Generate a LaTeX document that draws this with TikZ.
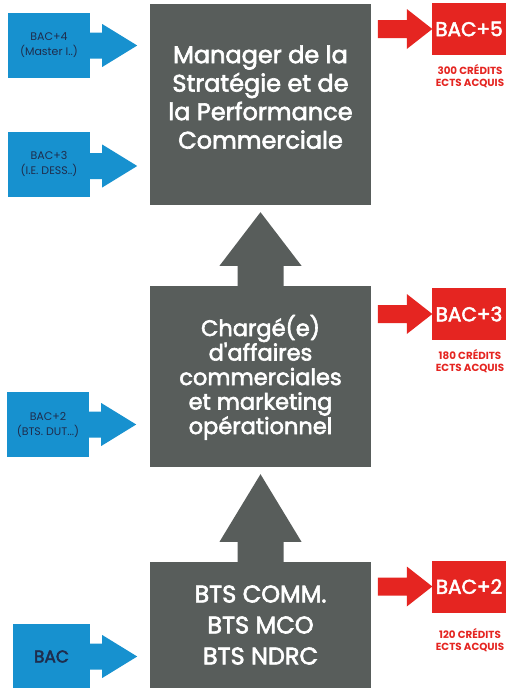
\documentclass[tikz,border=0pt]{standalone}
\usepackage{fontspec}
\setmainfont{Poppins}
\newfontfamily\medfont{Poppins}[FakeBold=2.6]
\usetikzlibrary{calc}
\definecolor{boxgray}{HTML}{585D5B}
\definecolor{bacblue}{HTML}{1791CF}
\definecolor{bacred}{HTML}{E52521}
\definecolor{navytext}{HTML}{1F2D4D}
\newcommand\bluearrowfrom[2]{% node, y offset of tip
  \fill[bacblue] ($(#1.east)+(-1,#2-13)$) -- ($(#1.east)+(12,#2-13)$) -- ($(#1.east)+(12,#2-21.5)$)
   -- ($(#1.east)+(47,#2)$) -- ($(#1.east)+(12,#2+21.5)$) -- ($(#1.east)+(12,#2+13)$) -- ($(#1.east)+(-1,#2+13)$) -- cycle;}
\newcommand\redarrowto[1]{%
  \fill[bacred] ($(#1.west)+(-54,-9)$) -- ($(#1.west)+(-25,-9)$) -- ($(#1.west)+(-25,-20)$)
   -- ($(#1.west)+(0.5,0)$) -- ($(#1.west)+(-25,20)$) -- ($(#1.west)+(-25,9)$) -- ($(#1.west)+(-54,9)$) -- cycle;}
\newcommand\uparrowbetween[2]{% lower node, upper node
  \fill[boxgray] ($(#1.north)+(-23,0.5)$) -- ($(#1.north)+(-23,-20)$) -- ($(#1.north)+(-41,-20)$)
   -- ($(#2.south)+(0,7)$) -- ($(#1.north)+(41,-20)$) -- ($(#1.north)+(23,-20)$) -- ($(#1.north)+(23,0.5)$) -- cycle;}
\begin{document}
\begin{tikzpicture}[x=1pt,y=-1pt,
  gbox/.style={fill=boxgray, draw=none, text=white, align=center, inner sep=0pt, minimum width=221pt},
  bbox/.style={fill=bacblue, draw=none, text=navytext, align=center, inner sep=0pt, minimum width=82pt, minimum height=65pt, font=\fontsize{11}{15}\selectfont},
  rbox/.style={fill=bacred, draw=none, text=white, inner sep=0pt, minimum width=74pt, minimum height=52pt, font=\medfont\fontsize{20}{24}\selectfont},
  rnote/.style={text=bacred, align=center, inner sep=0pt, font=\bfseries\fontsize{10.3}{12}\selectfont}]
\useasboundingbox[fill=white] (0,0) rectangle (506,688);
% gray boxes
\node[gbox, minimum height=201pt, text depth=15pt, font=\medfont\fontsize{24}{28.5}\selectfont] (top) at (260.5,104.5)
  {Manager de la\\Stratégie et de\\la Performance\\Commerciale};
\node[gbox, minimum height=181pt, text depth=4pt, font=\medfont\fontsize{22.5}{24.5}\selectfont] (mid) at (260.5,376.5)
  {Chargé(e)\\d\symbol{39}affaires\\commerciales\\et marketing\\opérationnel};
\node[gbox, minimum height=126pt, font=\medfont\fontsize{24}{31}\selectfont] (bot) at (260.5,625)
  {BTS COMM.\\BTS MCO\\BTS NDRC};
% up arrows
\uparrowbetween{mid}{top}
\uparrowbetween{bot}{mid}
% blue entry boxes
\node[bbox] (b4) at (49,45.5) {BAC+4\\(Master I..)};
\node[bbox] (b3) at (49,164) {BAC+3\\(I.E. DESS..)};
\node[bbox] (b2) at (48,424.5) {BAC+2\\(BTS. DUT...)};
\node[bbox, font=\medfont\fontsize{17}{19}\selectfont, minimum width=77pt] (b0) at (51.5,656.5) {BAC};
\bluearrowfrom{b4}{0}
\bluearrowfrom{b3}{2}
\bluearrowfrom{b2}{0}
\bluearrowfrom{b0}{0}
% red exit boxes
\node[rbox] (r5) at (469,29) {BAC+5};
\node[rbox] (r3) at (469,314) {BAC+3};
\node[rbox] (r2) at (469,586.5) {BAC+2};
\redarrowto{r5}
\redarrowto{r3}
\redarrowto{r2}
\node[rnote] (n5) at (470,76) {300 CRÉDITS\\ECTS ACQUIS};
\node[rnote] (n3) at (470,361) {180 CRÉDITS\\ECTS ACQUIS};
\node[rnote] (n2) at (470,640.5) {120 CRÉDITS\\ECTS ACQUIS};
\end{tikzpicture}
\end{document}
